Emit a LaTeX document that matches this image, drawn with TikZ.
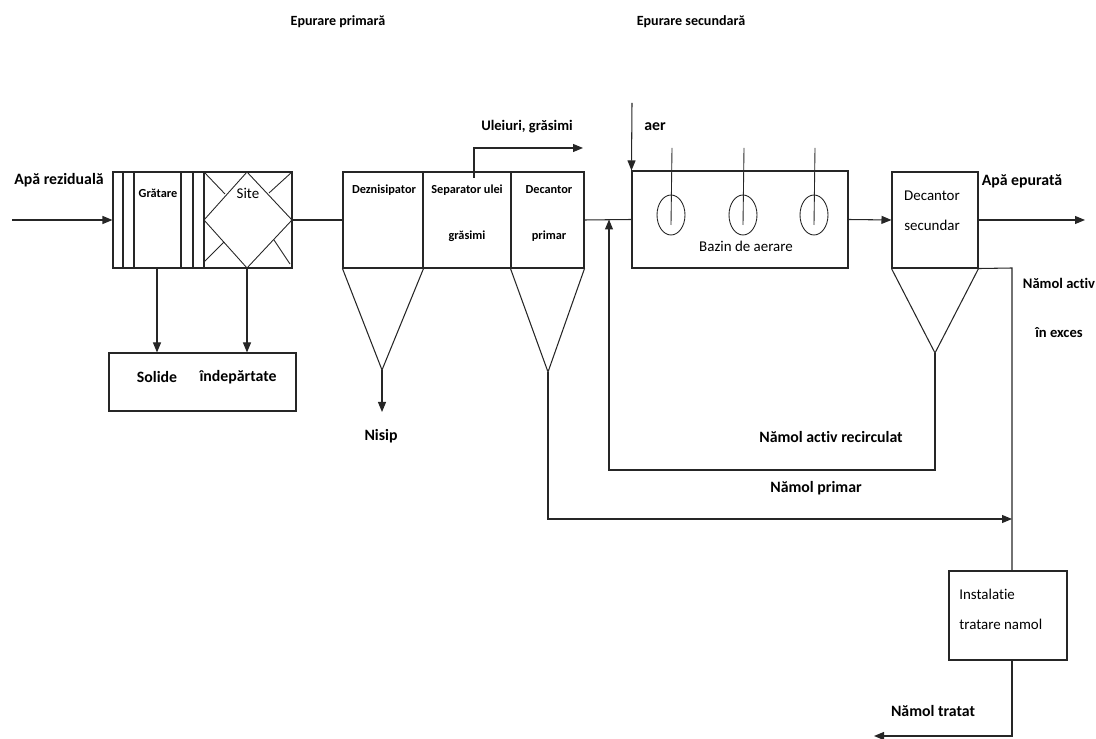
\documentclass[tikz,border=0pt]{standalone}
\usepackage{fontspec}
\setmainfont{Carlito}[Ligatures=NoCommon]
\usetikzlibrary{positioning, arrows.meta, fit}
\definecolor{Linie}{HTML}{262626}
\tikzset{
    bloc/.style={rectangle, draw=Linie, line width=0.6pt, inner sep=0pt},
    flux/.style={-{Triangle[length=2mm, width=1.6mm]}, line width=0.6pt, color=Linie},
    linie/.style={line width=0.6pt, color=Linie},
    fina/.style={line width=0.5pt, color=Linie},
    eticheta/.style={font=\bfseries\fontsize{9}{11}\selectfont, inner sep=0pt},
    mica/.style={font=\bfseries\fontsize{7}{9}\selectfont, inner sep=0pt},
    simpla/.style={font=\fontsize{8.5}{10}\selectfont, inner sep=0pt},
    titlu/.style={font=\bfseries\fontsize{8}{10}\selectfont, inner sep=0pt},
}

\begin{document}
\begin{tikzpicture}[x=0.02cm, y=-0.02cm]
\useasboundingbox (0,0) rectangle (1096,739);

% Titluri
\node[titlu] (tprim) at (338,22) {Epurare primară};
\node[titlu] (tsec) at (691,22) {Epurare secundară};

% Intrare
\coordinate (intrare) at (12,220);
\node[eticheta, anchor=west] (tapa) at (14,180) {Apă reziduală};

% Gratare si site
\node[bloc, fit={(113,172) (292,268)}] (grat) {};
\foreach \x in {123,134,181,193,204}
    \draw[linie] (\x,172) -- (\x,268);
\draw[fina] (247,172) -- (292,220) -- (247,268) -- (204,220) -- cycle;
\draw[fina] (204,172) -- (225,194);
\draw[fina] (292,172) -- (269,193);
\draw[fina] (204,262) -- (224,242);
\draw[fina] (274,240) -- (290,264);
\node[mica] (tgrat) at (158,193) {Grătare};
\node[simpla] (tsite) at (248,193) {Site};
\draw[flux] (intrare) -- (grat.west);

% Solide
\node[bloc, fit={(109,353) (296,411)}] (sol) {};
\node[eticheta] (tsol) at (157,377) {Solide};
\node[eticheta] (tind) at (238,377) {îndepărtate};
\coordinate (s2) at (247,300);
\draw[flux] (grat.south -| tsol) -- (sol.north -| tsol);
\draw[flux] (grat.south -| s2) -- (sol.north -| s2);

% Treapta primara
\node[bloc, fit={(343,172) (423,268)}] (dez) {};
\node[bloc, fit={(423,172) (511,268)}] (sep) {};
\node[bloc, fit={(511,172) (584,268)}] (dec1) {};
\node[mica] at (384,190) {Deznisipator};
\node[mica] at (467,190) {Separator ulei};
\node[mica] at (467,236) {grăsimi};
\node[mica] at (549,190) {Decantor};
\node[mica] at (549,236) {primar};
\draw[linie] (grat.east) -- (dez.west);

% Uleiuri
\coordinate (uo) at (474,178);
\coordinate (ulei) at (583,148);
\draw[flux] (uo) |- (ulei);
\node[eticheta, font=\bfseries\fontsize{8.3}{10}\selectfont] (tulei) at (527,127) {Uleiuri, grăsimi};

% Conuri
\coordinate (v1) at (382,370);
\coordinate (v2) at (548,372);
\draw[linie] (dez.south west) -- (v1) -- (dez.south east);
\draw[linie] (dec1.south west) -- (v2) -- (dec1.south east);
\coordinate (nisipc) at (382,412);
\draw[flux] (v1) -- (nisipc);
\node[eticheta] (tnisip) at (381,436) {Nisip};

% Bazin de aerare
\node[bloc, fit={(632,171) (848,268)}] (aer) {};
\draw[linie] (dec1.east) -- (aer.west);
\coordinate (aerin) at (632,103);
\draw[flux] (aerin) -- (aer.north west);
\node[eticheta] (taer) at (655,127) {aer};
\foreach \x in {671,743,814} {
    \draw[fina] (\x,215) ellipse [x radius=0.28cm, y radius=0.4cm];
    \draw[fina] (\x+1,148) -- (\x,225);
}
\node[simpla] (tbazin) at (746,246) {Bazin de aerare};

% Decantor secundar
\node[bloc, fit={(892,172) (978,268)}] (dec2) {};
\node[simpla] at (932,196) {Decantor};
\node[simpla] at (932,225) {secundar};
\draw[flux] (aer.east) -- (dec2.west);
\coordinate (iesire) at (1085,220);
\draw[flux] (dec2.east) -- (iesire);
\node[eticheta] (tepur) at (1022,181) {Apă epurată};
\coordinate (v3) at (935,353);
\draw[linie] (dec2.south west) -- (v3) -- (dec2.south east);

% Recirculare
\coordinate (rc) at (609,470);
\draw[flux] (v3) |- (rc) -- (rc |- aer.west);
\node[eticheta] (trec) at (831,437) {Nămol activ recirculat};

% Namol in exces si tratare
\node[bloc, fit={(949,571) (1067,660)}] (inst) {};
\node[simpla, anchor=west] at (959,594) {Instalatie};
\node[simpla, anchor=west] at (959,624) {tratare namol};
\coordinate (ex) at (1012,268);
\draw[linie] (dec2.south east) -- (ex) -- (ex |- inst.north);
\node[eticheta, font=\bfseries\fontsize{8.3}{10}\selectfont] at (1059,283) {Nămol activ};
\node[eticheta, font=\bfseries\fontsize{8.3}{10}\selectfont] at (1059,333) {în exces};

% Namol primar
\coordinate (np) at (548,519);
\draw[flux] (v2) -- (np) -- (np -| ex);
\node[eticheta] (tprimar) at (816,488) {Nămol primar};

% Namol tratat
\coordinate (tr) at (1012,736);
\coordinate (trout) at (874,736);
\draw[flux] (ex |- inst.south) -- (tr) -- (trout);
\node[eticheta] (ttratat) at (933,711) {Nămol tratat};
\end{tikzpicture}
\end{document}
